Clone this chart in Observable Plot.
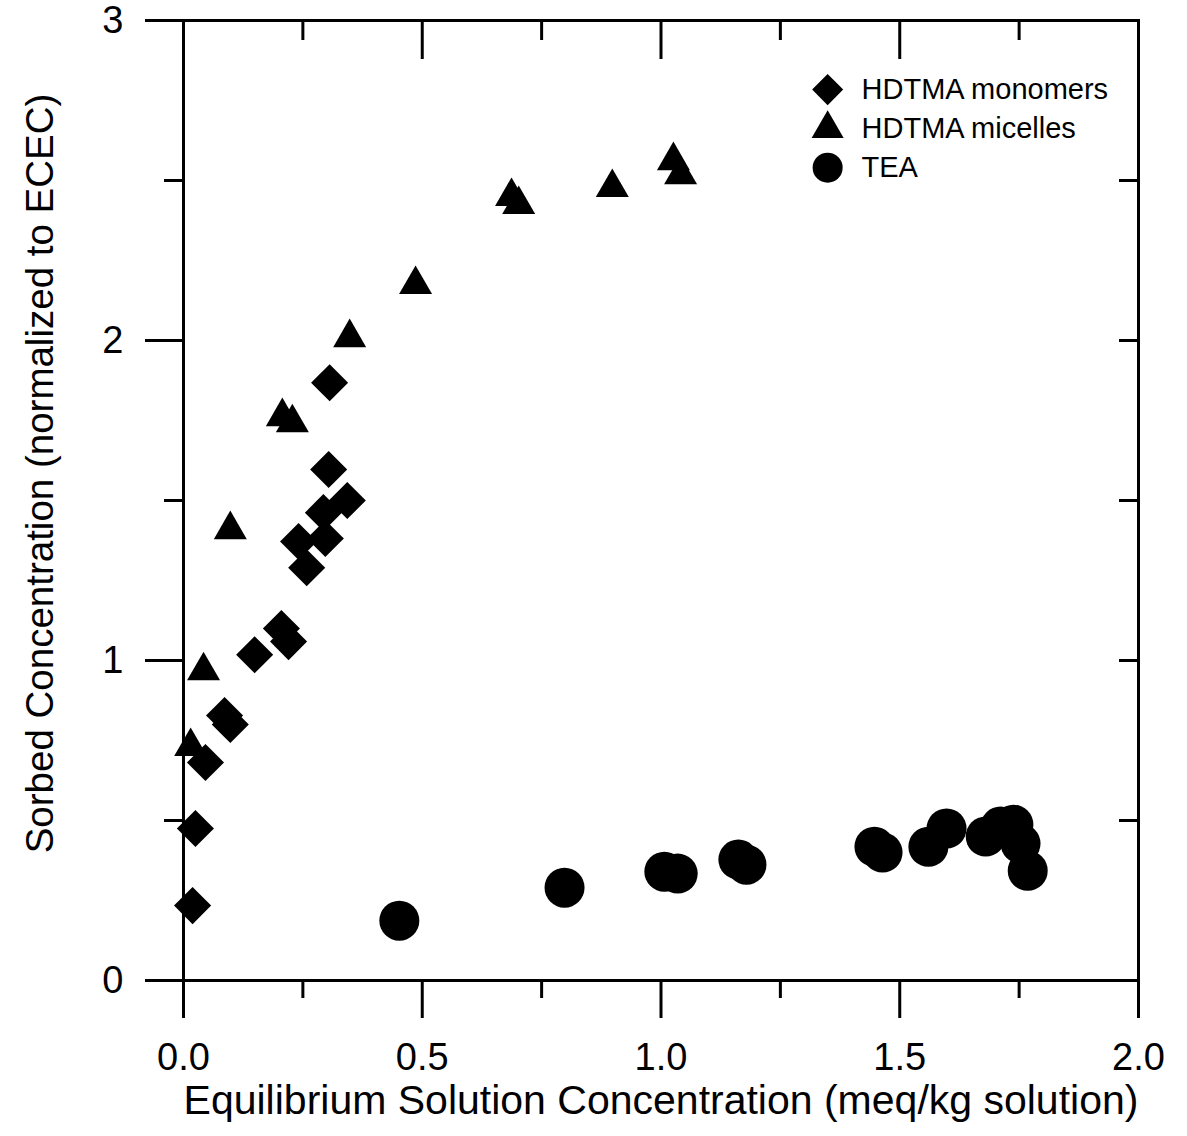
<!DOCTYPE html>
<html>
<head>
<meta charset="utf-8">
<script src="https://cdn.jsdelivr.net/npm/d3@7"></script>
<script src="https://cdn.jsdelivr.net/npm/@observablehq/plot@0.6"></script>
<style>
  html, body { margin: 0; padding: 0; background: #fff; }
  #chart svg { display: block; }
</style>
</head>
<body>
<div id="chart"></div>
<script>
// ---- Data ----
const monomersX = [0.019, 0.025, 0.046, 0.086, 0.098, 0.149, 0.205, 0.220, 0.258, 0.241, 0.297, 0.293, 0.343, 0.304, 0.306];
const monomersY = [0.234, 0.475, 0.681, 0.828, 0.800, 1.018, 1.100, 1.059, 1.290, 1.372, 1.381, 1.462, 1.500, 1.597, 1.868];

const micellesX = [0.015, 0.042, 0.098, 0.207, 0.228, 0.348, 0.486, 0.687, 0.702, 0.898, 1.026, 1.041];
const micellesY = [0.731, 0.968, 1.409, 1.762, 1.743, 2.009, 2.175, 2.450, 2.425, 2.478, 2.562, 2.518];

const teaX = [0.452, 0.798, 1.007, 1.035, 1.162, 1.179, 1.447, 1.464, 1.560, 1.598, 1.680, 1.711, 1.738, 1.753, 1.768];
const teaY = [0.187, 0.290, 0.340, 0.334, 0.378, 0.362, 0.418, 0.400, 0.418, 0.475, 0.450, 0.481, 0.487, 0.428, 0.343];

const xMajorTicks = [0, 0.5, 1.0, 1.5, 2.0];
const xMinorTicks = [0.25, 0.75, 1.25, 1.75];
const yMajorTicks = [0, 1, 2, 3];
const yMinorTicks = [0.5, 1.5, 2.5];
const yRightTicks = [0.5, 1.0, 1.5, 2.0, 2.5];

const legendLabels = ["HDTMA monomers", "HDTMA micelles", "TEA"];
const legendSymbols = ["diamond2", "triangle", "circle"];

const xTitle = "Equilibrium Solution Concentration (meq/kg solution)";
const yTitle = "Sorbed Concentration (normalized to ECEC)";

// ---- Tables built from the arrays ----
const monomers = monomersX.map((x, i) => ({x, y: monomersY[i]}));
const micelles = micellesX.map((x, i) => ({x, y: micellesY[i]}));
const tea = teaX.map((x, i) => ({x, y: teaY[i]}));

// legend layout (in plot units)
const legendSymX = 1.349, legendTextX = 1.42, legendTop = 2.784, legendStep = 0.122;
const legendR = {diamond2: 14, triangle: 11.9, circle: 15};
const legend = legendLabels.map((label, i) => ({
  label, symbol: legendSymbols[i], y: legendTop - i * legendStep
}));

const ink = "#000";
const sw = 3;
const sans = "'Liberation Sans', Arial, sans-serif";

const chart = Plot.plot({
  width: 1187,
  height: 1136,
  marginLeft: 183,
  marginRight: 49,
  marginTop: 20,
  marginBottom: 156,
  x: {domain: [0, 2], label: null},
  y: {domain: [0, 3], label: null},
  style: {
    fontFamily: "'Liberation Sans Narrow', 'Liberation Sans', Arial, sans-serif",
    fontSize: "38px",
    color: ink,
    background: "#fff"
  },
  marks: [
    Plot.frame({stroke: ink, strokeWidth: sw}),
    // bottom axis
    Plot.axisX(xMajorTicks, {anchor: "bottom", tickSize: 38, tickPadding: 25, strokeWidth: sw,
      tickFormat: d3.format(".1f"), label: null, fontSize: 38}),
    Plot.axisX(xMinorTicks, {anchor: "bottom", tickSize: 18, strokeWidth: sw, fill: "none", label: null}),
    // top axis (inward ticks)
    Plot.axisX(xMajorTicks, {anchor: "top", tickSize: -38, strokeWidth: sw, fill: "none", label: null}),
    Plot.axisX(xMinorTicks, {anchor: "top", tickSize: -19, strokeWidth: sw, fill: "none", label: null}),
    // left axis
    Plot.axisY(yMajorTicks, {anchor: "left", tickSize: 38, tickPadding: 22, strokeWidth: sw,
      tickFormat: d3.format("d"), label: null, fontSize: 38}),
    Plot.axisY(yMinorTicks, {anchor: "left", tickSize: 19, strokeWidth: sw, fill: "none", label: null}),
    // right axis (inward ticks)
    Plot.axisY(yRightTicks, {anchor: "right", tickSize: -20, strokeWidth: sw, fill: "none", label: null}),

    // data
    Plot.dot(tea, {x: "x", y: "y", symbol: "circle", r: 20, fill: ink, stroke: "none"}),
    Plot.dot(micelles, {x: "x", y: "y", symbol: "triangle", r: 12.25, fill: ink, stroke: "none"}),
    Plot.dot(monomers, {x: "x", y: "y", symbol: "diamond2", r: 16.7, fill: ink, stroke: "none"}),

    // legend
    ...legend.map(d => Plot.dot([d], {x: () => legendSymX, y: "y", symbol: () => d.symbol, r: legendR[d.symbol], fill: ink, stroke: "none"})),
    Plot.text(legend, {x: () => legendTextX, y: "y", text: "label", textAnchor: "start", lineAnchor: "middle",
      fontSize: 29, fontFamily: sans, fill: ink}),

    // axis titles
    Plot.text([xTitle], {frameAnchor: "bottom", dy: 120, text: d => d, textAnchor: "middle", lineAnchor: "middle",
      fontSize: 41, fontFamily: sans, fill: ink}),
    Plot.text([yTitle], {frameAnchor: "left", dx: -143, dy: -27, rotate: -90, text: d => d,
      textAnchor: "middle", lineAnchor: "middle", fontSize: 38.5, fontFamily: sans, fill: ink})
  ]
});

document.getElementById("chart").appendChild(chart);
</script>
</body>
</html>
